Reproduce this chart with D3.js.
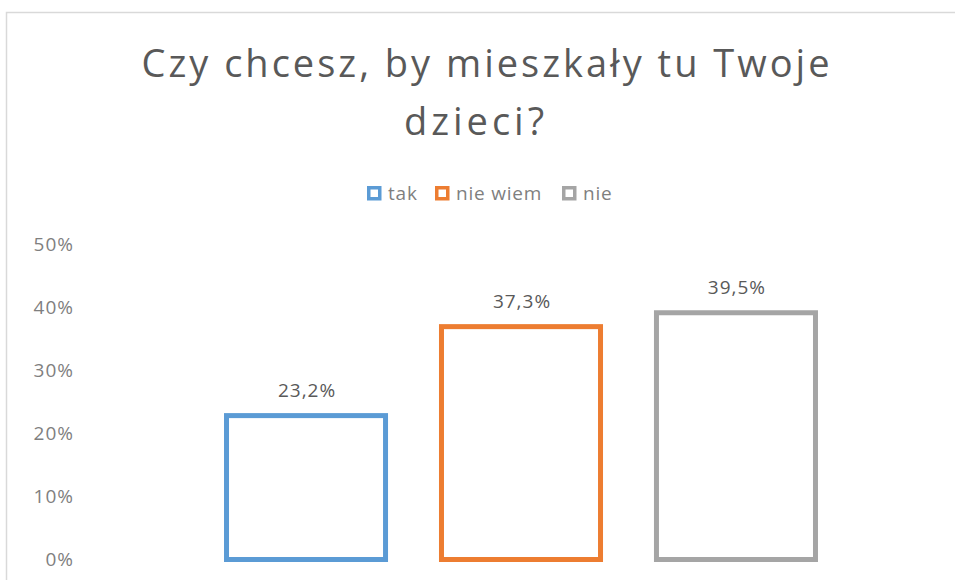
<!DOCTYPE html>
<html>
<head>
<meta charset="utf-8">
<script src="https://cdn.jsdelivr.net/npm/d3@7"></script>
<style>
  body { margin: 0; background: #fff; }
  text { font-family: "Open Sans", "Noto Sans", sans-serif; }
</style>
</head>
<body>
<div id="chart"></div>
<script>
// Chart data
var categories = ["tak", "nie wiem", "nie"];
var values = [23.2, 37.3, 39.5];
var colors = ["#5b9bd5", "#ed7d31", "#a5a5a5"];
var yTicks = [0, 10, 20, 30, 40, 50];
var titleLines = ["Czy chcesz, by mieszkały tu Twoje", "dzieci?"];

// Dimensions
var w = 955, h = 580;
var plot = {left: 198, right: 844, top: 244, bottom: 559.5};

var svg = d3.select("#chart").append("svg")
    .attr("width", w)
    .attr("height", h);

// Chart area border (runs off the right and bottom edge)
svg.append("rect")
    .attr("x", 6.5)
    .attr("y", 12.5)
    .attr("width", 1000)
    .attr("height", 700)
    .attr("fill", "#fff")
    .attr("stroke", "#d9d9d9")
    .attr("stroke-width", 1.5);

// Title
svg.append("g").selectAll("text")
    .data(titleLines)
    .enter().append("text")
    .attr("x", function(d, i) { return i ? 476 : 487; })
    .attr("y", function(d, i) { return 77 + i * 58; })
    .attr("text-anchor", "middle")
    .attr("font-size", "38px")
    .attr("letter-spacing", function(d, i) { return i ? "4px" : "3px"; })
    .attr("fill", "#595959")
    .text(function(d) { return d; });

// Scales
var x = d3.scaleBand()
    .domain(categories)
    .range([plot.left, plot.right])
    .paddingInner(0.237)
    .paddingOuter(0.121);

var y = d3.scaleLinear()
    .domain([0, 50])
    .range([plot.bottom, plot.top]);

// Y axis (labels only)
var yAxis = d3.axisLeft(y)
    .tickValues(yTicks)
    .tickSize(0)
    .tickPadding(0)
    .tickFormat(function(d) { return d + "%"; });

var yG = svg.append("g")
    .attr("transform", "translate(74,0)")
    .call(yAxis);
yG.select(".domain").remove();
yG.selectAll("text")
    .attr("font-family", "'Open Sans', sans-serif")
    .attr("font-size", "19px")
    .attr("letter-spacing", "1px")
    .attr("fill", "#7f7f7f");

// Bars (outlined)
var sw = 5;
svg.append("g").selectAll("rect")
    .data(values)
    .enter().append("rect")
    .attr("x", function(d, i) { return x(categories[i]) + sw / 2; })
    .attr("y", function(d) { return y(d) + sw / 2; })
    .attr("width", x.bandwidth() - sw)
    .attr("height", function(d) { return y(0) - y(d) - sw / 2; })
    .attr("fill", "#fff")
    .attr("stroke", function(d, i) { return colors[i]; })
    .attr("stroke-width", sw);

// Value labels
svg.append("g").selectAll("text")
    .data(values)
    .enter().append("text")
    .attr("x", function(d, i) { return x(categories[i]) + x.bandwidth() / 2 + 1; })
    .attr("y", function(d) { return y(d) - 16; })
    .attr("text-anchor", "middle")
    .attr("font-size", "19px")
    .attr("letter-spacing", "1px")
    .attr("fill", "#595959")
    .text(function(d) { return d3.format(".1f")(d).replace(".", ",") + "%"; });

// Legend
var legendX = [367, 435, 562];
var legend = svg.append("g").selectAll("g")
    .data(categories)
    .enter().append("g")
    .attr("transform", function(d, i) { return "translate(" + legendX[i] + ",186)"; });

legend.append("rect")
    .attr("x", 1.75)
    .attr("y", 1.75)
    .attr("width", 11)
    .attr("height", 11)
    .attr("fill", "#fff")
    .attr("stroke", function(d, i) { return colors[i]; })
    .attr("stroke-width", 3.5);

legend.append("text")
    .attr("x", 21)
    .attr("y", 14)
    .attr("font-size", "19px")
    .attr("letter-spacing", "0.8px")
    .attr("fill", "#7f7f7f")
    .text(function(d) { return d; });
</script>
</body>
</html>
